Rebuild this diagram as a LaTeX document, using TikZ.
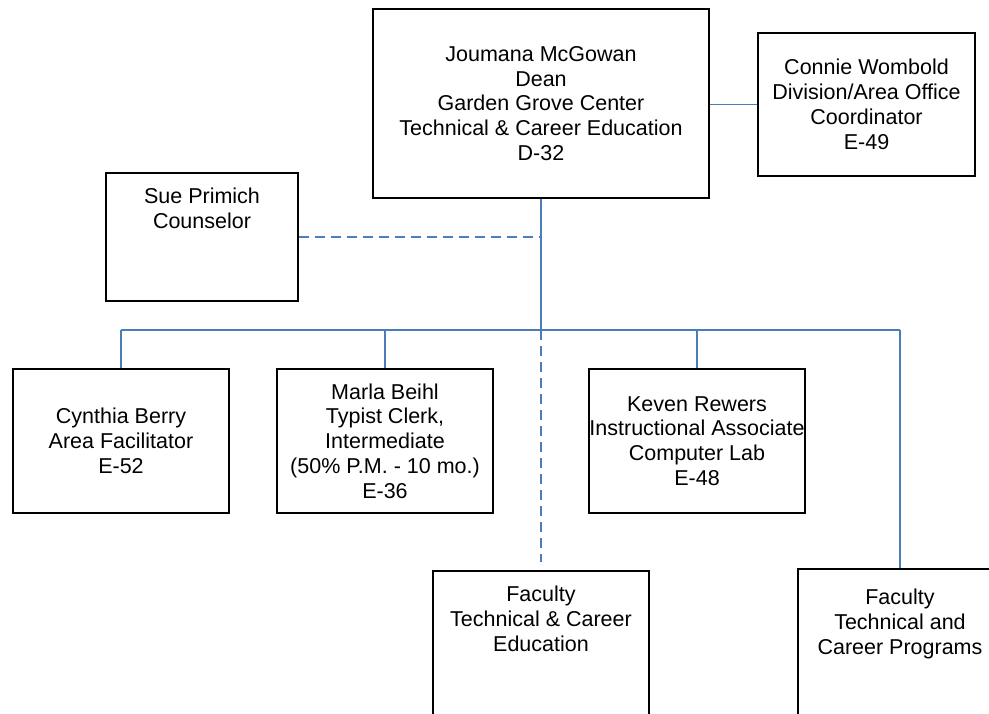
\documentclass[tikz,border=0pt]{standalone}
\usepackage{fontspec}
\setmainfont{Liberation Sans}
\usetikzlibrary{positioning, calc}
\definecolor{linkblue}{HTML}{4A7EBB}
\tikzset{
  posbox/.style={draw=black, line width=2pt, inner sep=0pt, align=center, minimum width=216pt, minimum height=144pt},
  boxtext/.style={inner sep=0pt, align=center},
  solidlink/.style={linkblue, line width=1.5pt},
  dashlink/.style={linkblue, line width=1.5pt, dash pattern=on 10pt off 6pt}
}

\begin{document}
\begin{tikzpicture}[x=1pt, y=-1pt, font=\fontsize{21.5}{24.8}\selectfont]
    \useasboundingbox (0,0) rectangle (989,713);
    \clip (0,0) rectangle (989,713);

    % Dean and office coordinator
    \node[posbox, minimum width=336pt, minimum height=189pt] (dean) at (541,103.5)
      {Joumana McGowan\\Dean\\Garden Grove Center\\Technical \& Career Education\\D-32};
    \node[posbox, minimum width=217pt, minimum height=143pt] (connie) at (866.5,104.5)
      {Connie Wombold\\Division/Area Office\\Coordinator\\E-49};

    % Counselor
    \node[posbox, minimum width=192pt, minimum height=128pt] (sue) at (202,237) {};
    \node[boxtext, below=16pt of sue.north] (suetext) {Sue Primich\\Counselor};

    % Staff row
    \node[posbox] (cynthia) at (121,441) {Cynthia Berry\\Area Facilitator\\E-52};
    \node[posbox] (marla) at (385,441)
      {Marla Beihl\\Typist Clerk,\\Intermediate\\(50\% P.M. - 10 mo.)\\E-36};
    \node[posbox] (keven) at (697,441)
      {Keven Rewers\\Instructional Associate\\Computer Lab\\E-48};

    % Faculty (boxes run off the page)
    \node[posbox, minimum height=170pt] (faced) at (541,656) {};
    \node[boxtext, below=16pt of faced.north] (facedtext) {Faculty\\Technical \& Career\\Education};
    \node[posbox, minimum width=204pt, minimum height=170pt] (facprog) at (900,654) {};
    \node[boxtext, below=21pt of facprog.north] (facprogtext) {Faculty\\Technical and\\Career Programs};

    % Connectors
    \coordinate (bus) at (541,330);
    \draw[solidlink] (dean.east |- connie.west) -- (connie.west);
    \draw[solidlink] (dean.south) -- (bus);
    \draw[solidlink] (cynthia.north |- bus) -- (facprog.north |- bus);
    \foreach \staff in {cynthia, marla, keven}
      \draw[solidlink] (\staff.north) -- (\staff.north |- bus);
    \draw[solidlink] (facprog.north |- bus) -- (facprog.north);
    \draw[dashlink] (sue.east) -- (sue.east -| bus);
    \draw[dashlink, shorten >=8pt] (bus) -- (faced.north);
\end{tikzpicture}
\end{document}
